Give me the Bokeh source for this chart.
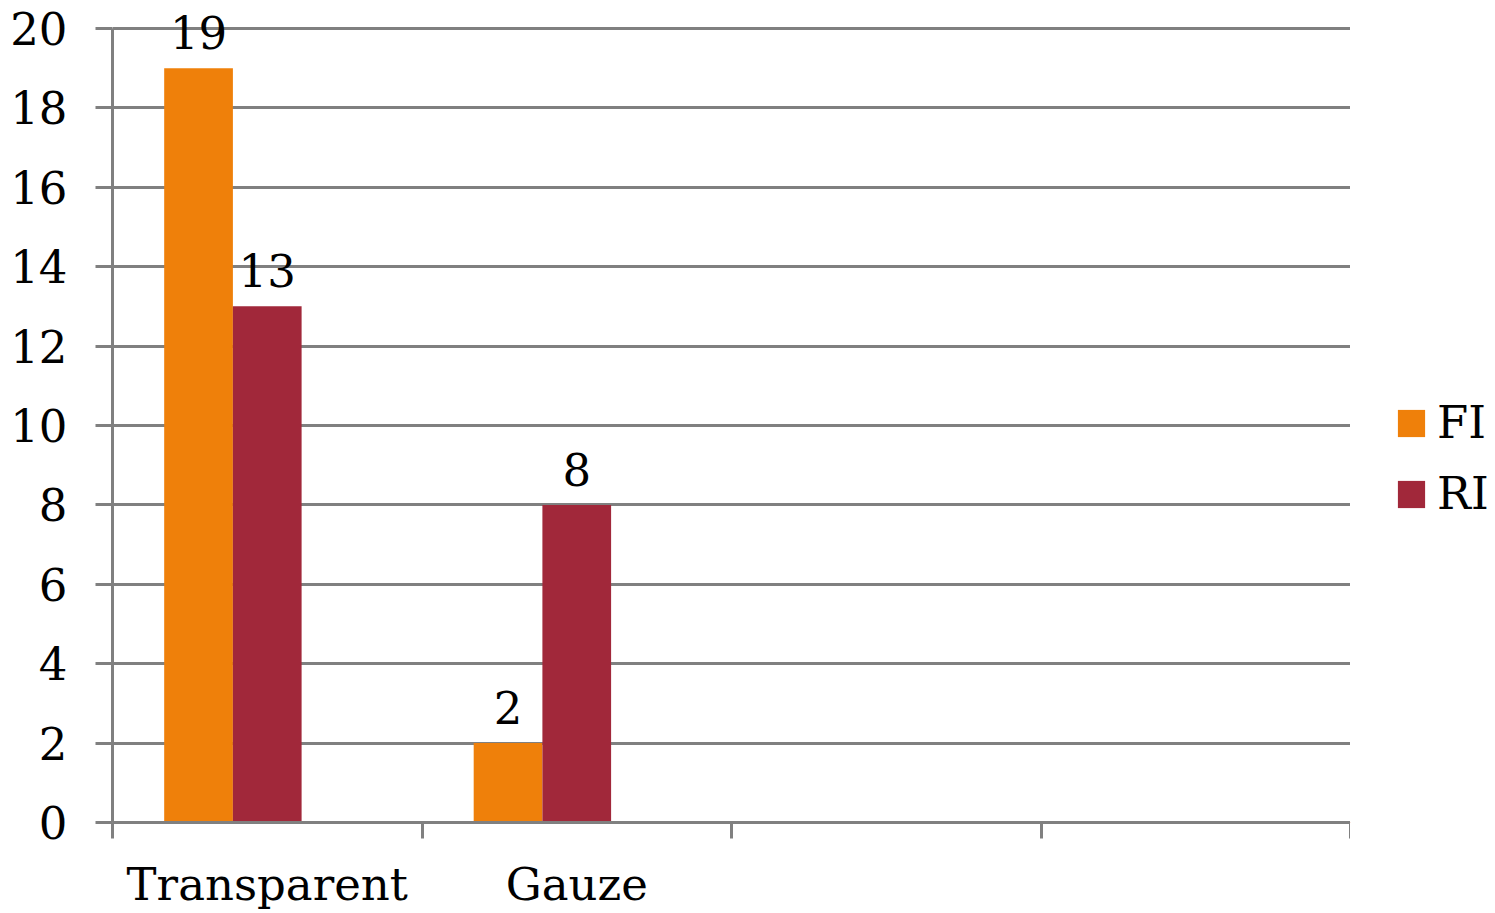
from bokeh.plotting import figure
from bokeh.layouts import row
from bokeh.models import Range1d, FixedTicker, Legend, LegendItem
from bokeh.core.properties import value
from bokeh.embed import file_html
from bokeh.resources import INLINE

# Category slots along the x axis (the last two are empty)
categories = ["Transparent", "Gauze", "", ""]
# Series values per category
fi_values = [19, 2]
ri_values = [13, 8]
series_names = ["FI", "RI"]
y_ticks = [0, 2, 4, 6, 8, 10, 12, 14, 16, 18, 20]

FONT = "DejaVu Serif"
ORANGE = "#EF800A"
RED = "#A1283A"
GRID = "#808080"
FONT_SIZE = "45px"

Y_MAX = 20
# a little headroom above the top tick so the value labels are not cut
Y_TOP = Y_MAX * 819 / 796

p = figure(
    width=1350, height=913,
    x_range=Range1d(0, len(categories)), y_range=Range1d(0, Y_TOP),
    output_backend="svg", toolbar_location=None,
    min_border_left=112, min_border_right=0,
    min_border_top=5, min_border_bottom=89,
)
p.outline_line_color = None
p.background_fill_color = "white"
p.border_fill_color = "white"

# Three bar positions per slot; the series occupy the first two
bar_w = 0.222
centers = [i + 0.5 for i in range(len(categories))]
x_fi = [centers[i] - bar_w for i in range(len(fi_values))]
x_ri = [centers[i] for i in range(len(ri_values))]

r_fi = p.vbar(x=x_fi, top=fi_values, width=bar_w, bottom=0,
              fill_color=ORANGE, line_color=None)
r_ri = p.vbar(x=x_ri, top=ri_values, width=bar_w, bottom=0,
              fill_color=RED, line_color=None)

# Value labels above each bar
for xs, vals in ((x_fi, fi_values), (x_ri, ri_values)):
    p.text(x=xs, y=vals, text=[str(v) for v in vals],
           text_align="center", text_baseline="bottom", y_offset=-19,
           text_font=value(FONT), text_font_size=FONT_SIZE,
           text_color="black")

# Grid
p.xgrid.grid_line_color = None
p.ygrid.grid_line_color = GRID
p.ygrid.grid_line_width = 3
p.ygrid.ticker = FixedTicker(ticks=y_ticks)

# Y axis
ya = p.yaxis[0]
ya.ticker = FixedTicker(ticks=y_ticks)
ya.bounds = (0, Y_MAX)
ya.axis_line_color = GRID
ya.axis_line_width = 3
ya.major_tick_line_color = GRID
ya.major_tick_line_width = 3
ya.major_tick_out = 17
ya.major_tick_in = 0
ya.minor_tick_line_color = None
ya.major_label_text_font = FONT
ya.major_label_text_font_size = FONT_SIZE
ya.major_label_text_color = "black"
ya.major_label_standoff = 28

# X axis: labels at slot centres, tick marks at slot boundaries
xa = p.xaxis[0]
xa.ticker = FixedTicker(ticks=centers,
                        minor_ticks=list(range(len(categories) + 1)))
xa.major_label_overrides = {c: lab for c, lab in zip(centers, categories)}
xa.axis_line_color = GRID
xa.axis_line_width = 3
xa.major_tick_line_color = None
xa.major_tick_out = 0
xa.major_tick_in = 0
xa.minor_tick_line_color = GRID
xa.minor_tick_line_width = 3
xa.minor_tick_out = 16
xa.minor_tick_in = 0
xa.major_label_text_font = FONT
xa.major_label_text_font_size = FONT_SIZE
xa.major_label_text_color = "black"
xa.major_label_standoff = 19

# Legend panel to the right of the chart; its swatch renderers lie
# entirely outside the panel's visible range so only the legend shows
lg = figure(
    width=145, height=913, x_range=Range1d(0, 1), y_range=Range1d(0, 1),
    output_backend="svg", toolbar_location=None,
    x_axis_location=None, y_axis_location=None,
    min_border=0,
)
lg.outline_line_color = None
lg.grid.grid_line_color = None
lg_fi = lg.vbar(x=[-10], bottom=[-11], top=[-10], width=0.1,
                fill_color=ORANGE, line_color=None)
lg_ri = lg.vbar(x=[-10], bottom=[-11], top=[-10], width=0.1,
                fill_color=RED, line_color=None)

legend = Legend(
    items=[LegendItem(label=series_names[0], renderers=[lg_fi]),
           LegendItem(label=series_names[1], renderers=[lg_ri])],
    glyph_width=34, glyph_height=34, label_standoff=9, spacing=18,
    label_text_font=FONT, label_text_font_size=FONT_SIZE,
    label_text_color="black",
    border_line_color=None, background_fill_alpha=0,
    margin=0, padding=0, location=(44, 302),
)
lg.add_layout(legend)

open("out.html", "w").write(file_html(row(p, lg, spacing=0), INLINE))
